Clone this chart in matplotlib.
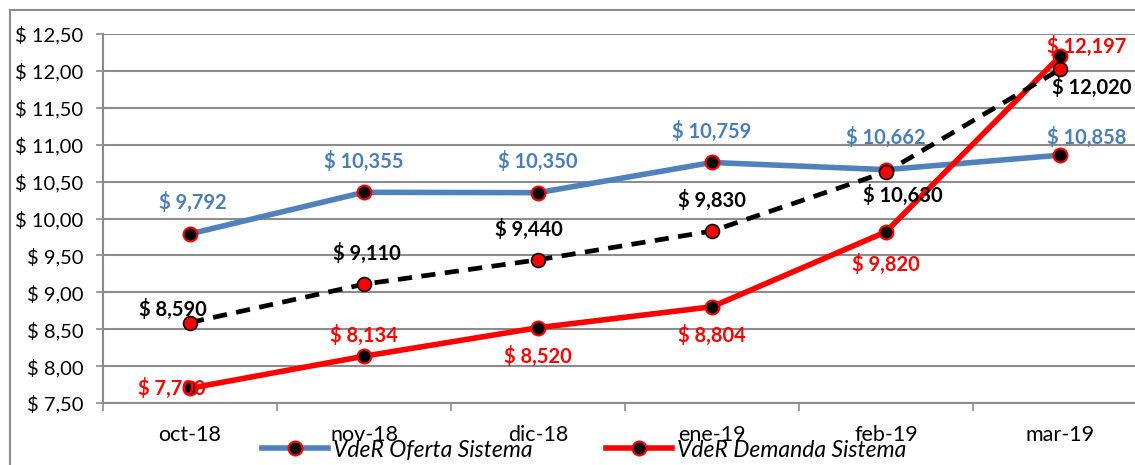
import matplotlib.pyplot as plt
from matplotlib.patches import Rectangle
from matplotlib.ticker import FuncFormatter, FixedLocator
from matplotlib.lines import Line2D
import numpy as np

# Datos
meses = ["oct-18", "nov-18", "dic-18", "ene-19", "feb-19", "mar-19"]
oferta = [9.792, 10.355, 10.350, 10.759, 10.662, 10.858]
demanda = [7.700, 8.134, 8.520, 8.804, 9.820, 12.197]
tercera = [8.590, 9.110, 9.440, 9.830, 10.630, 12.020]

# desplazamiento de las etiquetas (px)
off_oferta = [(3, 31), (0, 31), (0, 31), (0, 31), (0, 32), (27, 18)]
off_demanda = [(-18, 0), (0, 21), (0, -29), (0, -29), (0, -33), (27, 10)]
off_tercera = [(-17, 13), (3, 31), (-9, 30), (0, 31), (17, -23), (32, -18)]

azul = "#4F81BD"
azul_txt = "#4A7DBA"
rojo = "#FF0000"

plt.rcParams['font.family'] = ['Lato', 'DejaVu Sans']

fig = plt.figure(figsize=(11.35, 4.65), dpi=100)
ax = fig.add_axes([103 / 1135, 1 - 403 / 465, (1147 - 103) / 1135, (403 - 34) / 465])

# marco exterior
fig.patches.append(Rectangle((10 / 1135, -0.2), 1.2, 1.2 - 10 / 465,
                             transform=fig.transFigure, fill=False,
                             edgecolor="#8C8C8C", lw=1.5, zorder=0))

x = np.arange(len(meses))
ax.plot(x, oferta, color=azul, lw=4, marker="o", ms=10,
        mfc="black", mec=rojo, mew=1.5, zorder=3)
ax.plot(x, demanda, color=rojo, lw=4, marker="o", ms=10,
        mfc="black", mec=rojo, mew=1.5, zorder=4)
ax.plot(x, tercera, color="black", lw=3.4, ls=(0, (3, 2)), marker="o", ms=10,
        mfc=rojo, mec="black", mew=1.2, zorder=5)

def etiquetas(vals, offs, color):
    for i, (v, (dx, dy)) in enumerate(zip(vals, offs)):
        txt = "$ " + f"{v:.3f}".replace(".", ",")
        ax.annotate(txt, (i, v), xytext=(dx * 0.72, dy * 0.72), textcoords="offset points",
                    ha="center", va="center", color=color, fontsize=14.5,
                    fontweight="bold", zorder=6)

etiquetas(oferta, off_oferta, azul_txt)
etiquetas(demanda, off_demanda, rojo)
etiquetas(tercera, off_tercera, "black")

ax.set_xlim(-0.5, 5.5)
ax.set_ylim(7.5, 12.5)
ax.set_yticks(np.arange(7.5, 12.51, 0.5))
ax.yaxis.set_major_formatter(FuncFormatter(lambda v, p: "$ " + f"{v:.2f}".replace(".", ",")))
ax.grid(axis="y", color="#8C8C8C", lw=1.5)
ax.set_axisbelow(True)

ax.set_xticks(x)
ax.set_xticklabels(meses)
ax.xaxis.set_minor_locator(FixedLocator(np.arange(-0.5, 6, 1)))
ax.tick_params(axis="x", which="major", length=0, pad=16, labelsize=15.5)
ax.tick_params(axis="x", which="minor", length=6, width=1.2, color="#8C8C8C")
ax.tick_params(axis="y", length=5, width=1.2, color="#8C8C8C", pad=9, labelsize=14.5)

for s in ["top", "right"]:
    ax.spines[s].set_visible(False)
for s in ["left", "bottom"]:
    ax.spines[s].set_color("#8C8C8C")
    ax.spines[s].set_linewidth(1.5)

h1 = Line2D([], [], color=azul, lw=4, marker="o", ms=10, mfc="black", mec=rojo, mew=1.5)
h2 = Line2D([], [], color=rojo, lw=4, marker="o", ms=10, mfc="black", mec=rojo, mew=1.5)
fig.legend([h1, h2], ["VdeR Oferta Sistema", "VdeR Demanda Sistema"],
           loc="center", bbox_to_anchor=(584 / 1135, 1 - 450 / 465), ncol=2,
           frameon=False, prop={"style": "italic", "size": 16.5},
           handlelength=2.9, handletextpad=0.2, columnspacing=3.2)

fig.savefig("out.png", dpi=100)
